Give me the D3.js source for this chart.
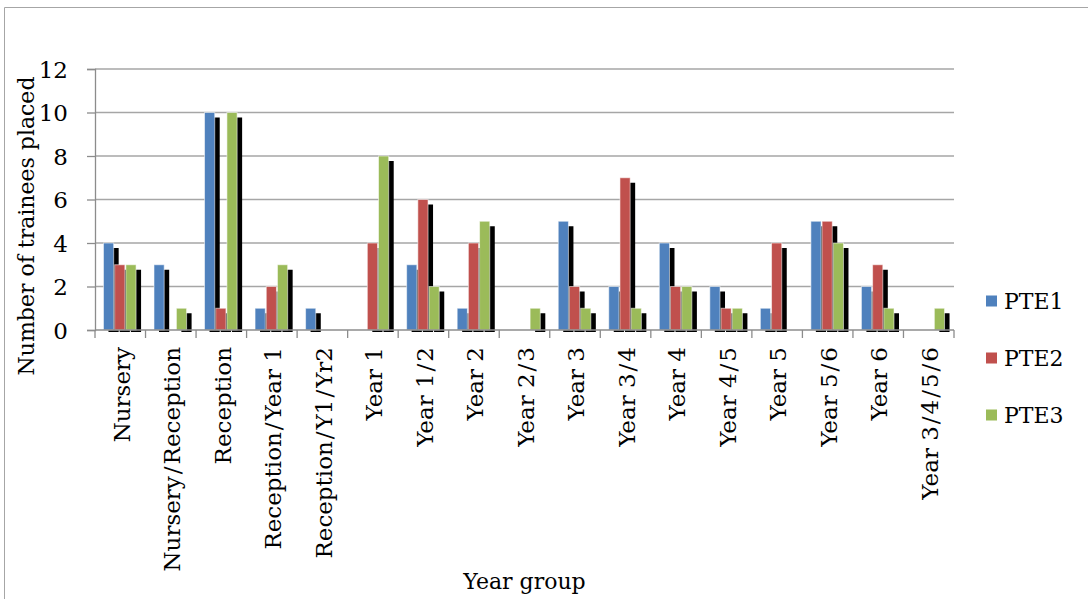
<!DOCTYPE html>
<html>
<head>
<meta charset="utf-8">
<script src="https://cdn.jsdelivr.net/npm/d3@7"></script>
<style>
  html, body { margin: 0; padding: 0; background: #fff; }
  svg { display: block; }
  text { font-family: "DejaVu Serif", serif; fill: #000; }
</style>
</head>
<body>
<svg id="chart" width="1088" height="599"></svg>
<script>
// Year groups along the x axis
const categories = [
  "Nursery", "Nursery/Reception", "Reception", "Reception/Year 1",
  "Reception/Y1/Yr2", "Year 1", "Year 1/2", "Year 2", "Year 2/3",
  "Year 3", "Year 3/4", "Year 4", "Year 4/5", "Year 5", "Year 5/6",
  "Year 6", "Year 3/4/5/6"
];
const seriesNames = ["PTE1", "PTE2", "PTE3"];
const pte1 = [4, 3, 10, 1, 1, 0, 3, 1, 0, 5, 2, 4, 2, 1, 5, 2, 0];
const pte2 = [3, 0, 1, 2, 0, 4, 6, 4, 0, 2, 7, 2, 1, 4, 5, 3, 0];
const pte3 = [3, 1, 10, 3, 0, 8, 2, 5, 1, 1, 1, 2, 1, 0, 4, 1, 1];
const yTicks = [0, 2, 4, 6, 8, 10, 12];
const colors = ["#4f81bd", "#c0504d", "#9bbb59"];

const seriesValues = [pte1, pte2, pte3];

const svg = d3.select("#chart");
const W = 1088, H = 599;
const m = { left: 95, right: 954, top: 69, bottom: 330 };

// outer chart frame
svg.append("path")
  .attr("d", `M4.5,${H} V7.5 H${W}`)
  .attr("fill", "none")
  .attr("stroke", "#a6a6a6")
  .attr("stroke-width", 1);

const x0 = d3.scaleBand().domain(categories).range([m.left, m.right]).padding(0);
const barW = 11.2;
const x1 = d3.scaleBand().domain(seriesNames)
  .range([0, barW * 3]).padding(0);
const groupOffset = (x0.bandwidth() - barW * 3) / 2;
const y = d3.scaleLinear().domain([0, 12]).range([m.bottom, m.top]);

// horizontal gridlines
svg.append("g").selectAll("line").data(yTicks.filter(d => d > 0)).join("line")
  .attr("x1", m.left).attr("x2", m.right)
  .attr("y1", d => y(d)).attr("y2", d => y(d))
  .attr("stroke", "#a6a6a6").attr("stroke-width", 1.3);

// y axis
const yAxis = svg.append("g")
  .attr("transform", `translate(${m.left},0)`)
  .call(d3.axisLeft(y).tickValues(yTicks).tickSize(8).tickPadding(19));
yAxis.select(".domain").attr("stroke", "#8c8c8c").attr("stroke-width", 1.3);
yAxis.selectAll(".tick line").attr("stroke", "#8c8c8c").attr("stroke-width", 1.3);
yAxis.selectAll(".tick text")
  .style("font-family", "'DejaVu Serif', serif")
  .style("font-size", "23px")
  .attr("dy", "0.36em");

// clip so shadows only peek slightly below the baseline
svg.append("clipPath").attr("id", "plotClip")
  .append("rect")
  .attr("x", m.left).attr("y", 0)
  .attr("width", m.right - m.left + 20).attr("height", m.bottom + 2);

const rows = [];
categories.forEach((c, i) => {
  seriesNames.forEach((s, j) => {
    rows.push({ cat: c, series: s, idx: j, value: seriesValues[j][i] });
  });
});
const nonZero = rows.filter(d => d.value > 0);

const groups = svg.append("g").attr("clip-path", "url(#plotClip)");

// each bar is drawn with its own drop shadow, in series order so that the
// next bar covers the lower part of the previous shadow
const dx = 5, dy = 5;
nonZero.forEach(d => {
  const bx = x0(d.cat) + groupOffset + x1(d.series);
  groups.append("rect")
    .attr("x", bx + dx).attr("y", y(d.value) + dy)
    .attr("width", barW - 1).attr("height", m.bottom - y(d.value))
    .attr("fill", "#000");
  groups.append("rect")
    .attr("x", bx).attr("y", y(d.value))
    .attr("width", barW - 1).attr("height", m.bottom - y(d.value))
    .attr("fill", colors[d.idx])
    .attr("stroke", "rgba(255,255,255,0.55)")
    .attr("stroke-width", 1);
});

// x axis baseline and category separators
const xAxis = svg.append("g")
  .attr("transform", `translate(0,${m.bottom})`);
xAxis.append("line")
  .attr("x1", m.left).attr("x2", m.right)
  .attr("stroke", "#8c8c8c").attr("stroke-width", 1.3);
const boundaries = categories.map(c => x0(c)).concat([m.right]);
xAxis.selectAll("line.sep").data(boundaries).join("line")
  .attr("class", "sep")
  .attr("x1", d => d).attr("x2", d => d)
  .attr("y1", 0).attr("y2", 8)
  .attr("stroke", "#8c8c8c").attr("stroke-width", 1.3);

// rotated category labels; slashes get a little breathing room
const catLabels = svg.append("g").selectAll("text").data(categories).join("text")
  .attr("transform", d => `translate(${x0(d) + x0.bandwidth() / 2 + 1},${m.bottom + 17}) rotate(-90)`)
  .attr("text-anchor", "end")
  .attr("dy", "0.36em")
  .style("font-size", "23px");
catLabels.each(function (d) {
  const t = d3.select(this);
  const parts = d.split("/");
  parts.forEach((p, i) => {
    if (i > 0) t.append("tspan").attr("dx", 2).text("/");
    t.append("tspan").attr("dx", i > 0 ? 2 : 0).text(p);
  });
});

// axis titles
svg.append("text")
  .attr("transform", `translate(34,${226}) rotate(-90)`)
  .attr("text-anchor", "middle")
  .style("font-size", "22px")
  .text("Number of trainees placed");

svg.append("text")
  .attr("x", (m.left + m.right) / 2)
  .attr("y", 589)
  .attr("text-anchor", "middle")
  .style("font-size", "22px")
  .text("Year group");

// legend
const legend = svg.append("g").selectAll("g").data(seriesNames).join("g")
  .attr("transform", (d, i) => `translate(986,${301 + i * 57})`);
legend.append("rect")
  .attr("x", 0).attr("y", -5.5).attr("width", 11).attr("height", 11)
  .attr("fill", (d, i) => colors[i]);
legend.append("text")
  .attr("x", 18).attr("dy", "0.36em")
  .style("font-size", "22px")
  .text(d => d);
</script>
</body>
</html>
